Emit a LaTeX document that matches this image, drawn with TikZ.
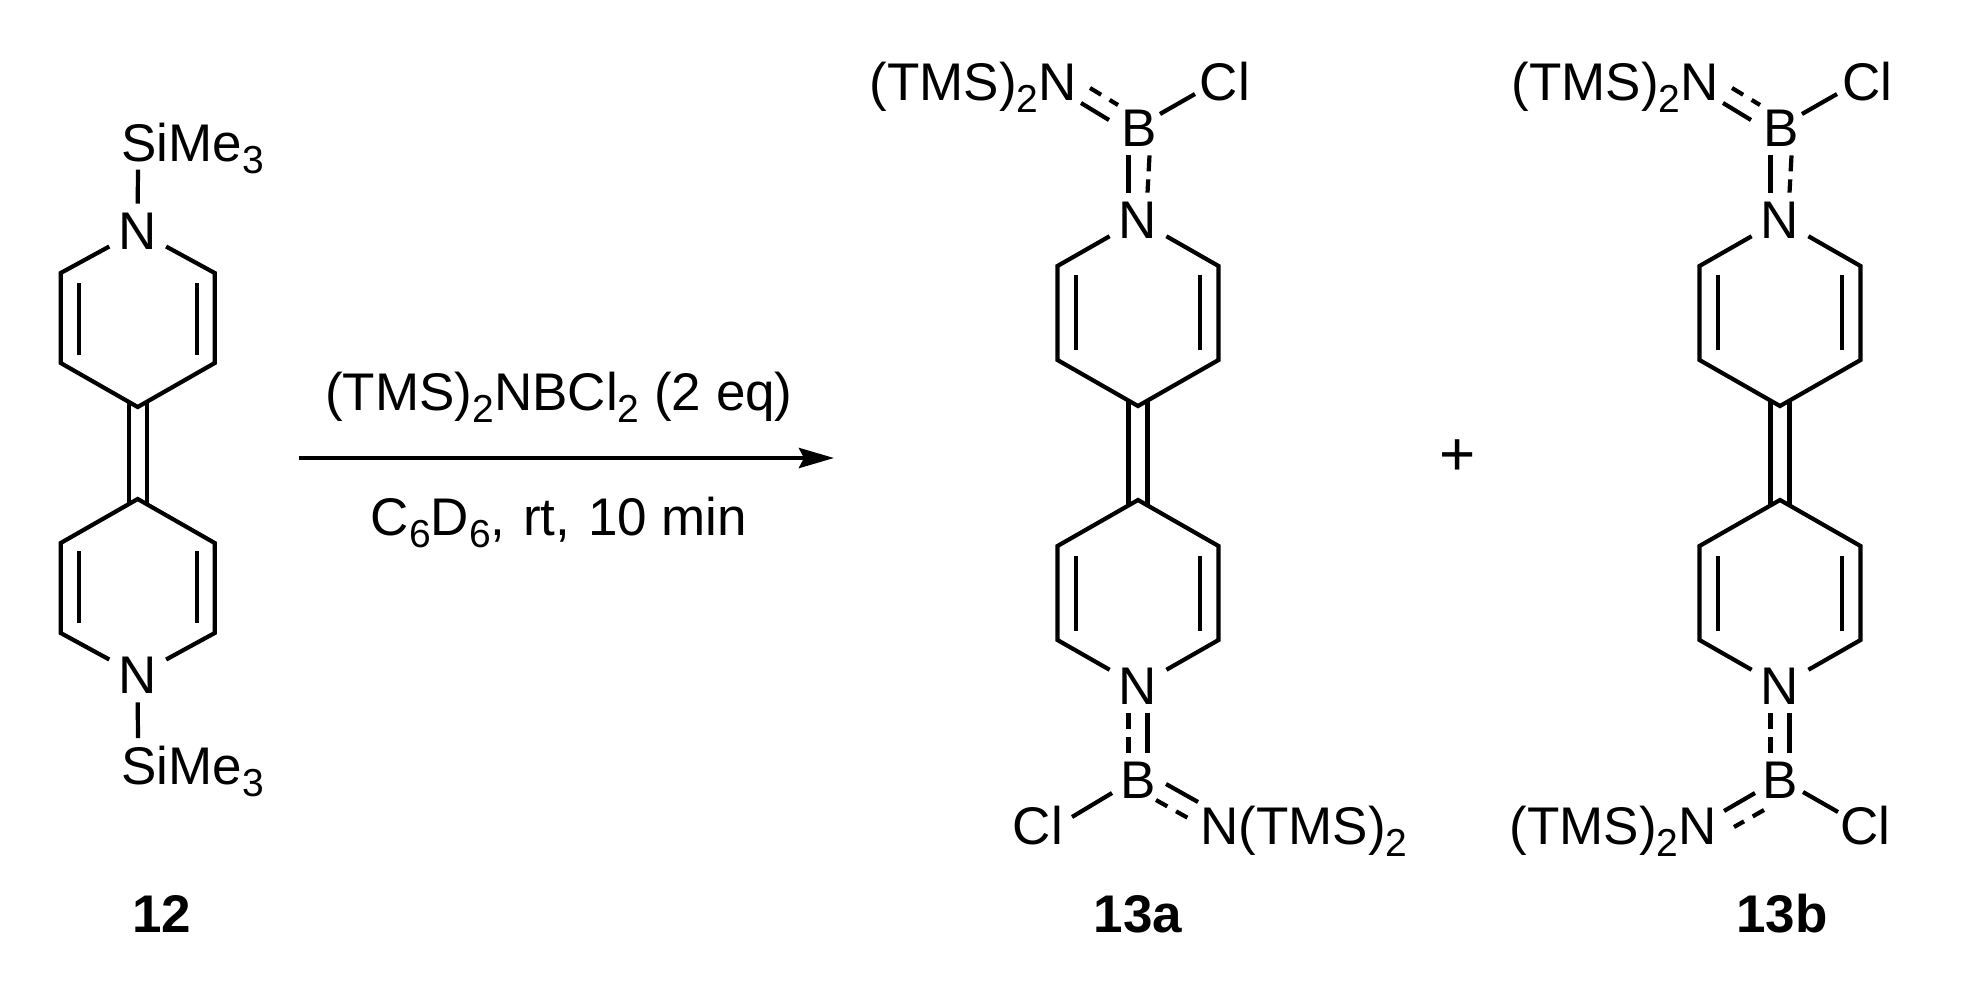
\documentclass[tikz,border=0pt]{standalone}
\usepackage{fontspec}
\setsansfont{Liberation Sans}
\tikzset{every picture/.style={/utils/exec={\sffamily}}}
\usetikzlibrary{arrows.meta}
\newcommand{\idx}[1]{\raisebox{-6pt}{\fontsize{19.5}{20}\selectfont #1}}
\tikzset{
  every node/.style={font=\fontsize{26.5}{30}\selectfont},
  bond/.style={line width=2.1pt},
  dashbond/.style={bond, dash pattern=on 8pt off 4pt},
  dashdiag/.style={bond, dash pattern=on 6.5pt off 5pt},
  atom/.style={inner sep=0pt, minimum width=28pt, minimum height=27pt},
  lbl/.style={inner sep=0pt, anchor=base},
  boldlbl/.style={lbl, font=\fontsize{26.5}{30}\selectfont\bfseries},
  rxnup/.style={lbl, yshift=23.6pt},
  rxndown/.style={lbl, yshift=-38.5pt},
}
\begin{document}
\begin{tikzpicture}[x=0.5pt, y=-0.5pt]
  \useasboundingbox (0,0) rectangle (1962,981);

  % rings of 12, 13a, 13b
  \foreach \mol/\cx/\hw/\noff/\vout/\vin/\apex/\dfrom/\dto/\dx/\cc in
    {p/137.7/77/222/180/90/46/170/98/59/9, a/1138/80.5/233/187/93/47/178/103/62/9.5, b/1780/80.5/233/187/93/47/178/103/62/9.5} {
    \foreach \sgn/\side in {-1/u, 1/d} {
      \node [atom] (n\side\mol) at (\cx,453+\sgn*\noff) {N};
      \coordinate (top\side\mol) at (\cx,453+\sgn*\apex);
      \coordinate (lo\side\mol) at (\cx-\hw,453+\sgn*\vout);
      \coordinate (li\side\mol) at (\cx-\hw,453+\sgn*\vin);
      \coordinate (ro\side\mol) at (\cx+\hw,453+\sgn*\vout);
      \coordinate (ri\side\mol) at (\cx+\hw,453+\sgn*\vin);
      \coordinate (dl\side\mol) at (\cx-\dx,453+\sgn*\dfrom);
      \coordinate (el\side\mol) at (\cx-\dx,453+\sgn*\dto);
      \coordinate (dr\side\mol) at (\cx+\dx,453+\sgn*\dfrom);
      \coordinate (er\side\mol) at (\cx+\dx,453+\sgn*\dto);
      \draw [bond] (n\side\mol) -- (lo\side\mol) -- (li\side\mol) -- (top\side\mol)
        -- (ri\side\mol) -- (ro\side\mol) -- (n\side\mol);
      \draw [bond] (dl\side\mol) -- (el\side\mol);
      \draw [bond] (dr\side\mol) -- (er\side\mol);
    }
    \draw [bond] ([shift={(-\cc,-5)}]topu\mol) -- ([shift={(-\cc,5)}]topd\mol);
    \draw [bond] ([shift={(\cc,-5)}]topu\mol) -- ([shift={(\cc,5)}]topd\mol);
  }

  % 12
  \node [lbl, anchor=base west] (siu) at (121,161.7) {SiMe\idx{3}};
  \node [lbl, anchor=base west] (sid) at (121,784) {SiMe\idx{3}};
  \draw [bond] (nup.north) -- ([shift={(17,8)}]siu.base west);
  \draw [bond] (ndp.south) -- ([shift={(17,-46)}]sid.base west);
  \node [boldlbl] (lab12) at (162,932) {12};

  % arrow
  \coordinate (rxnstart) at (299,458);
  \coordinate (rxnend) at (834,458);
  \draw [-{Stealth[length=17.5pt, width=10pt, inset=2.5pt]}, line width=2.25pt] (rxnstart) to
    node [rxnup, pos=.486] {(TMS)\idx{2}NBCl\idx{2} (2 eq)}
    node [rxndown, pos=.486] {C\idx{6}D\idx{6},\hspace{1.5pt} rt,\hspace{1.5pt} 10 min} (rxnend);

  % upper B of 13a, 13b
  \foreach \mol/\cx in {a/1138, b/1780} {
    \node [atom] (bu\mol) at (\cx+1,128) {B};
    \node [lbl] (clu\mol) at (\cx+87,100) {Cl};
    \node [lbl, anchor=base east] (tmsu\mol) at (\cx-61,100) {(TMS)\idx{2}N};
    \draw [bond] ([shift={(-9.5,0)}]nu\mol.north) -- ([shift={(-10.5,0)}]bu\mol.south);
    \draw [dashbond] ([shift={(10.5,0)}]bu\mol.south) -- ([shift={(9.5,0)}]nu\mol.north);
    \draw [bond] ([shift={(21,-14)}]bu\mol.center) -- ([shift={(-30,-6)}]clu\mol.base);
    \draw [bond] ([shift={(4,3)}]tmsu\mol.base east) -- ([shift={(-30,-8)}]bu\mol.center);
    \draw [dashdiag] ([shift={(13,-12)}]tmsu\mol.base east) -- ([shift={(-21,-23)}]bu\mol.center);
  }

  % lower B of 13a, 13b
  \foreach \mol/\cx in {a/1138, b/1780} {
    \node [atom] (bd\mol) at (\cx,780) {B};
    \draw [dashbond] ([shift={(-9.5,0)}]nd\mol.south) -- ([shift={(-9.5,0)}]bd\mol.north);
    \draw [bond] ([shift={(9.5,0)}]nd\mol.south) -- ([shift={(9.5,0)}]bd\mol.north);
  }

  % 13a
  \node [lbl] (clda) at (1038,844) {Cl};
  \node [lbl, anchor=base west] (tmsda) at (1200,844) {N(TMS)\idx{2}};
  \draw [bond] ([shift={(-26,13)}]bda.center) -- ([shift={(34,-27)}]clda.base);
  \draw [bond] ([shift={(28,4)}]bda.center) -- ([shift={(-2,-42)}]tmsda.base west);
  \draw [dashdiag] ([shift={(18,20)}]bda.center) -- ([shift={(-12,-26)}]tmsda.base west);
  \node [boldlbl] (lab13a) at (1138,932) {13a};

  % 13b
  \node [lbl] (cldb) at (1865,844) {Cl};
  \node [lbl, anchor=base east] (tmsdb) at (1717,844) {(TMS)\idx{2}N};
  \draw [bond] ([shift={(23,12)}]bdb.center) -- ([shift={(-27,-32)}]cldb.base);
  \draw [bond] ([shift={(-25,13)}]bdb.center) -- ([shift={(7,-33)}]tmsdb.base east);
  \draw [dashdiag] ([shift={(-16,30)}]bdb.center) -- ([shift={(17,-17)}]tmsdb.base east);
  \node [boldlbl] (lab13b) at (1782,932) {13b};

  \node [inner sep=0pt, font=\fontsize{31}{31}\selectfont] (plus) at (1458,458) {+};
\end{tikzpicture}
\end{document}
